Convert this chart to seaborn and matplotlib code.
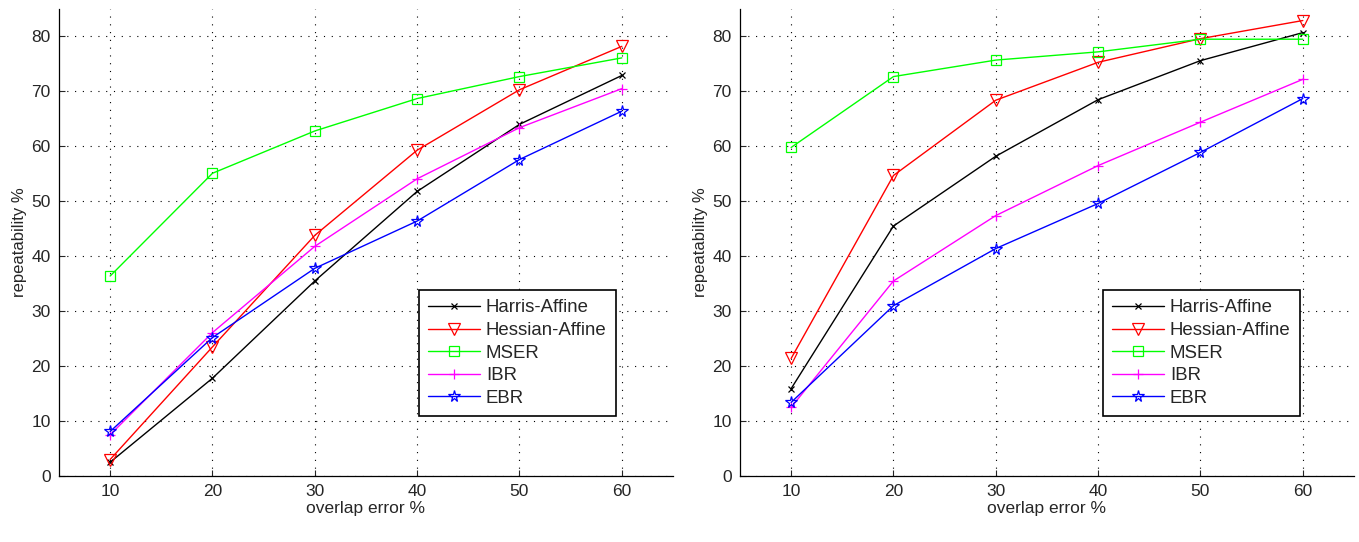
import pandas as pd
import seaborn as sns
import matplotlib
matplotlib.use("Agg")
import matplotlib.pyplot as plt

overlap = [10, 20, 30, 40, 50, 60]
detectors = ["Harris-Affine", "Hessian-Affine", "MSER", "IBR", "EBR"]

# left panel
left_harris = [2.5, 17.8, 35.5, 51.8, 64.0, 72.9]
left_hessian = [3.0, 23.5, 43.8, 59.3, 70.3, 78.2]
left_mser = [36.4, 55.1, 62.8, 68.7, 72.7, 76.1]
left_ibr = [7.5, 26.1, 41.8, 54.1, 63.4, 70.5]
left_ebr = [8.1, 25.2, 37.8, 46.4, 57.6, 66.4]

# right panel
right_harris = [15.9, 45.5, 58.2, 68.5, 75.6, 80.7]
right_hessian = [21.4, 54.7, 68.4, 75.3, 79.6, 82.9]
right_mser = [59.8, 72.7, 75.7, 77.2, 79.5, 79.5]
right_ibr = [12.5, 35.5, 47.4, 56.5, 64.4, 72.2]
right_ebr = [13.4, 31.0, 41.4, 49.6, 58.9, 68.7]

colors = {"Harris-Affine": "#000000", "Hessian-Affine": "#ff0000", "MSER": "#00ff00",
          "IBR": "#ff00ff", "EBR": "#0000ff"}
markers = {"Harris-Affine": "x", "Hessian-Affine": "v", "MSER": "s", "IBR": "+", "EBR": "*"}
msizes = {"Harris-Affine": 5, "Hessian-Affine": 9, "MSER": 6.5, "IBR": 7.5, "EBR": 8.5}


def make_df(series):
    rows = []
    for name, vals in zip(detectors, series):
        for x, y in zip(overlap, vals):
            rows.append({"overlap": x, "rep": y, "detector": name})
    return pd.DataFrame(rows)


df_left = make_df([left_harris, left_hessian, left_mser, left_ibr, left_ebr])
df_right = make_df([right_harris, right_hessian, right_mser, right_ibr, right_ebr])

sns.set_style("ticks")
plt.rcParams["font.family"] = ["Liberation Sans", "DejaVu Sans"]

fig = plt.figure(figsize=(13.59, 5.42), dpi=100)
ax1 = fig.add_axes([0.0434, 0.1218, 0.4518, 0.8616])
ax2 = fig.add_axes([0.5445, 0.1218, 0.4518, 0.8616])


def draw(ax, df, legend_right):
    for name in detectors:
        sub = df[df["detector"] == name]
        sns.lineplot(data=sub, x="overlap", y="rep", ax=ax, color=colors[name],
                     marker=markers[name], markersize=msizes[name], mfc="none",
                     mec=colors[name], mew=0.9, linewidth=1, label=name)
    ax.set_xlim(5, 65)
    ax.set_ylim(0, 85)
    ax.set_xticks(overlap)
    ax.set_yticks(range(0, 81, 10))
    ax.grid(True, color="black", linestyle=(0, (1, 6)), linewidth=0.8)
    ax.tick_params(direction="in", labelsize=12.5, length=4, width=0.8, pad=6)
    for s in ["top", "right"]:
        ax.spines[s].set_visible(False)
    for s in ["left", "bottom"]:
        ax.spines[s].set_linewidth(0.9)
        ax.spines[s].set_color("black")
    ax.set_xlabel("overlap error %", fontsize=12.5, labelpad=1)
    ax.set_ylabel("repeatability %", fontsize=12, labelpad=3)
    leg = ax.legend(loc="lower right", bbox_to_anchor=(legend_right, 0.128),
                    fontsize=13.4, handlelength=2.8, handletextpad=0.3,
                    fancybox=False, framealpha=1, edgecolor="black",
                    borderpad=0.5, labelspacing=0.3, borderaxespad=0)
    leg.get_frame().set_linewidth(1.2)


draw(ax1, df_left, 0.907)
draw(ax2, df_right, 0.912)

fig.savefig("out.png", dpi=100)
